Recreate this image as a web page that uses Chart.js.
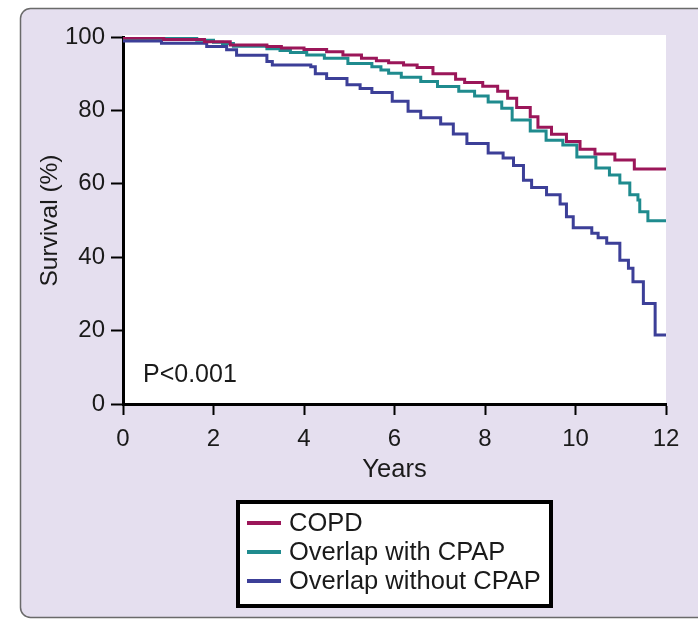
<!DOCTYPE html>
<html>
<head>
<meta charset="utf-8">
<script src="https://cdn.jsdelivr.net/npm/chart.js@4.4.1/dist/chart.umd.min.js"></script>
<style>
    html, body { margin: 0; padding: 0; background: #fff; }
    canvas { display: block; }
</style>
</head>
<body>
<canvas id="survivalChart" width="698" height="620"></canvas>
<script>
// Kaplan-Meier curves: years of follow-up vs % surviving
const seriesNames = ['COPD', 'Overlap with CPAP', 'Overlap without CPAP'];

const copdYears = [0, 0.9, 1.8, 2.37, 3.18, 3.5, 4.0, 4.5, 4.86, 5.27, 5.6, 5.87, 6.2, 6.5, 6.85, 7.35, 7.55, 7.95, 8.28, 8.5, 8.7, 9.0, 9.17, 9.47, 9.8, 10.1, 10.43, 10.87, 11.3, 11.46, 12];
const copdSurvival = [100, 99.7, 99.3, 98.7, 97.8, 97.4, 97.0, 96.6, 96.0, 95.1, 94.2, 93.5, 93.0, 92.4, 91.7, 90.0, 88.5, 87.6, 86.6, 85.2, 83.3, 80.8, 78.3, 75.4, 73.5, 71.5, 69.4, 68.1, 66.5, 64.0, 64.0];

const cpapYears = [0, 1.63, 2.0, 2.2, 2.44, 3.18, 3.47, 3.7, 4.06, 4.45, 4.97, 5.5, 5.7, 5.87, 6.15, 6.58, 6.95, 7.42, 7.77, 8.07, 8.37, 8.6, 9.0, 9.35, 9.72, 10.03, 10.45, 10.75, 10.98, 11.2, 11.38, 11.42, 11.6, 11.8, 12];
const cpapSurvival = [100, 99.6, 99.1, 98.6, 98.2, 97.5, 96.8, 96.3, 95.8, 95.1, 94.2, 92.8, 91.9, 91.0, 90.1, 89.0, 87.9, 86.5, 85.2, 83.9, 82.3, 80.6, 77.4, 74.4, 71.9, 70.6, 67.3, 64.3, 62.4, 60.2, 57.0, 55.6, 52.4, 49.9, 49.9];

const noCpapYears = [0, 0.85, 1.85, 2.29, 2.51, 3.18, 3.3, 4.15, 4.25, 4.5, 4.95, 5.24, 5.5, 5.95, 6.3, 6.58, 7.02, 7.3, 7.6, 8.07, 8.4, 8.63, 8.85, 9.03, 9.36, 9.66, 9.8, 9.95, 10.36, 10.5, 10.69, 10.98, 11.17, 11.27, 11.5, 11.76, 11.87, 12];
const noCpapSurvival = [100, 98.9, 98.3, 97.4, 96.5, 95.0, 93.3, 92.4, 91.9, 90.0, 88.7, 87.0, 86.0, 84.9, 82.5, 79.8, 78.0, 76.3, 73.6, 71.0, 68.4, 67.0, 65.0, 61.0, 59.0, 57.0, 54.5, 51.0, 48.0, 46.5, 45.3, 43.8, 39.2, 37.0, 33.3, 27.4, 18.8, 18.8];

const xTicks = [0, 2, 4, 6, 8, 10, 12];
const yTicks = [0, 20, 40, 60, 80, 100];
const pValueText = 'P<0.001';

const FONT = 'Liberation Sans, Arial, Helvetica, sans-serif';

function toPoints(xs, ys) {
    return xs.map((x, i) => ({ x: x, y: ys[i] }));
}

// lavender frame, white plot panel, p-value and boxed legend
const figureDecor = {
    id: 'figureDecor',
    beforeDraw(chart) {
        const { ctx, chartArea: a } = chart;
        ctx.save();
        ctx.fillStyle = '#fff';
        ctx.fillRect(0, 0, chart.width, chart.height);
        ctx.beginPath();
        ctx.roundRect(20.5, 8.5, 700, 609, 10);
        ctx.fillStyle = '#e5dfef';
        ctx.fill();
        ctx.strokeStyle = '#6a6a6a';
        ctx.lineWidth = 1.5;
        ctx.stroke();
        ctx.fillStyle = '#fff';
        ctx.fillRect(a.left, a.top - 2, a.right - a.left, a.bottom - a.top + 2);
        ctx.restore();
    },
    afterDraw(chart) {
        const { ctx, chartArea: a } = chart;
        ctx.save();
        ctx.fillStyle = '#1a1a1a';
        ctx.font = '25px ' + FONT;
        ctx.textBaseline = 'middle';
        ctx.textAlign = 'left';
        ctx.fillText(pValueText, a.left + 20, a.bottom - 29);

        // legend box
        ctx.fillStyle = '#fff';
        ctx.fillRect(238, 502, 313, 104);
        ctx.strokeStyle = '#000';
        ctx.lineWidth = 4;
        ctx.strokeRect(238, 502, 313, 104);
        ctx.font = '25.5px ' + FONT;
        chart.data.datasets.forEach((ds, i) => {
            const y = 523 + i * 29;
            ctx.strokeStyle = ds.borderColor;
            ctx.lineWidth = 4;
            ctx.beginPath();
            ctx.moveTo(247, y);
            ctx.lineTo(281, y);
            ctx.stroke();
            ctx.fillStyle = '#1a1a1a';
            ctx.fillText(ds.label, 289, y + 1);
        });
        ctx.restore();
    }
};

const ctx = document.getElementById('survivalChart').getContext('2d');

new Chart(ctx, {
    type: 'line',
    data: {
        datasets: [
            {
                label: seriesNames[0],
                data: toPoints(copdYears, copdSurvival),
                borderColor: '#9b1659',
            },
            {
                label: seriesNames[1],
                data: toPoints(cpapYears, cpapSurvival),
                borderColor: '#1f8b8e',
            },
            {
                label: seriesNames[2],
                data: toPoints(noCpapYears, noCpapSurvival),
                borderColor: '#3c3f98',
            }
        ]
    },
    options: {
        responsive: false,
        animation: false,
        layout: { padding: { left: 0, top: 37, right: 32, bottom: 135 } },
        elements: {
            point: { radius: 0 },
            line: { borderWidth: 3, stepped: 'after', fill: false, tension: 0 }
        },
        plugins: {
            legend: { display: false },
            tooltip: { enabled: false }
        },
        scales: {
            x: {
                type: 'linear',
                min: 0,
                max: 12,
                afterBuildTicks: (s) => { s.ticks = xTicks.map(v => ({ value: v })); },
                afterFit: (s) => { s.height = 81; },
                ticks: { color: '#1a1a1a', font: { family: FONT, size: 24 }, padding: 10, maxRotation: 0 },
                grid: { drawOnChartArea: false, drawTicks: true, tickLength: 11, tickColor: '#000', tickWidth: 2 },
                border: { color: '#000', width: 3 },
                title: { display: true, text: 'Years', color: '#1a1a1a', font: { family: FONT, size: 25.5 }, padding: { top: 0, bottom: 0 } }
            },
            y: {
                min: 0,
                max: 100,
                afterBuildTicks: (s) => { s.ticks = yTicks.map(v => ({ value: v })); },
                afterFit: (s) => { s.width = 123; },
                ticks: { color: '#1a1a1a', font: { family: FONT, size: 24 }, padding: 6 },
                grid: { drawOnChartArea: false, drawTicks: true, tickLength: 12, tickColor: '#000', tickWidth: 2 },
                border: { color: '#000', width: 3 },
                title: { display: true, text: 'Survival (%)', color: '#1a1a1a', font: { family: FONT, size: 24.5 }, padding: { top: 36, bottom: 0 } }
            }
        }
    },
    plugins: [figureDecor]
});
</script>
</body>
</html>
